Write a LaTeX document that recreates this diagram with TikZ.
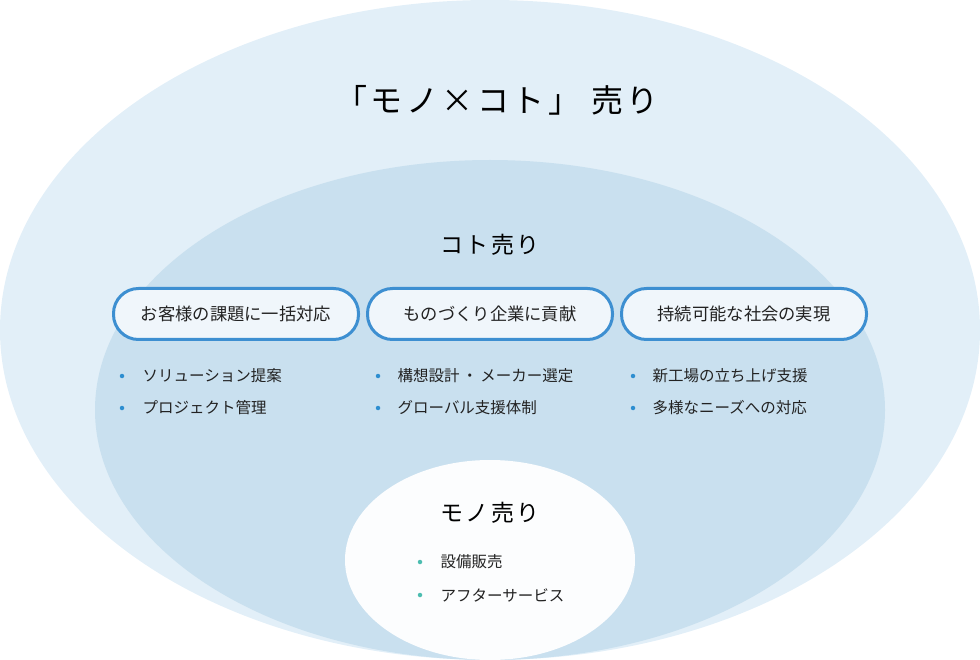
\documentclass[tikz,border=0pt]{standalone}
\usepackage{fontspec}
\setmainfont{Noto Sans CJK JP}
\newfontfamily\headfont[LetterSpace=11]{Noto Sans CJK JP}
\usepackage{xcolor}
\usetikzlibrary{positioning}

\definecolor{outerfill}{HTML}{E2EFF8}
\definecolor{midfill}{HTML}{C9E0EF}
\definecolor{innerfill}{HTML}{FCFDFE}
\definecolor{pillblue}{HTML}{3D8FD1}
\definecolor{pillfill}{HTML}{F0F6FB}
\definecolor{dotblue}{HTML}{2D8ED0}
\definecolor{dotteal}{HTML}{4CBDB0}
\definecolor{textcol}{HTML}{222222}

\begin{document}
\begin{tikzpicture}[x=1pt, y=-1pt,
    pill/.style={draw=pillblue, line width=3pt, fill=pillfill, rounded corners=25pt,
      minimum width=245pt, minimum height=51pt, text=textcol,
      font=\fontsize{17.3}{20}\selectfont},
    dot/.style={circle, fill=#1, inner sep=0pt, minimum size=4.5pt},
    item/.style={inner sep=0pt, text=textcol, font=\fontsize{15.5}{18}\selectfont},
    head/.style={inner sep=0pt, text=black, font=\headfont\fontsize{#1}{#1}\selectfont}]
            \useasboundingbox (0,0) rectangle (980,660);

            % Ellipses
            \fill[outerfill] (490,330) ellipse [x radius=490, y radius=330];
            \fill[midfill] (490,410) ellipse [x radius=395, y radius=250];
            \fill[innerfill] (490,560) ellipse [x radius=145, y radius=100];

            % Titles
            \node[head=32] (monokoto) at (497,100) {「モノ×コト」 売り};
            \node[head=23] (koto) at (490,245) {コト売り};
            \node[head=23] (mono) at (490,513) {モノ売り};

            % Pills
            \node[pill] (p1) at (236,314) {お客様の課題に一括対応};
            \node[pill] (p2) at (490,314) {ものづくり企業に貢献};
            \node[pill] (p3) at (744,314) {持続可能な社会の実現};

            % Items - left
            \node[dot=dotblue] (d11) at (122,376) {};
            \node[item, right=18pt of d11] {ソリューション提案};
            \node[dot=dotblue] (d12) at (122,408) {};
            \node[item, right=18pt of d12] {プロジェクト管理};

            % Items - middle
            \node[dot=dotblue] (d21) at (378,376) {};
            \node[item, right=17pt of d21] {構想設計\,・\,メーカー選定};
            \node[dot=dotblue] (d22) at (378,408) {};
            \node[item, right=17pt of d22] {グローバル支援体制};

            % Items - right
            \node[dot=dotblue] (d31) at (633,376) {};
            \node[item, right=17pt of d31] {新工場の立ち上げ支援};
            \node[dot=dotblue] (d32) at (633,408) {};
            \node[item, right=17pt of d32] {多様なニーズへの対応};

            % Items - inner
            \node[dot=dotteal] (d41) at (420,562) {};
            \node[item, right=18pt of d41] {設備販売};
            \node[dot=dotteal] (d42) at (420,595) {};
            \node[item, right=18pt of d42] {アフターサービス};
        \end{tikzpicture}
\end{document}
